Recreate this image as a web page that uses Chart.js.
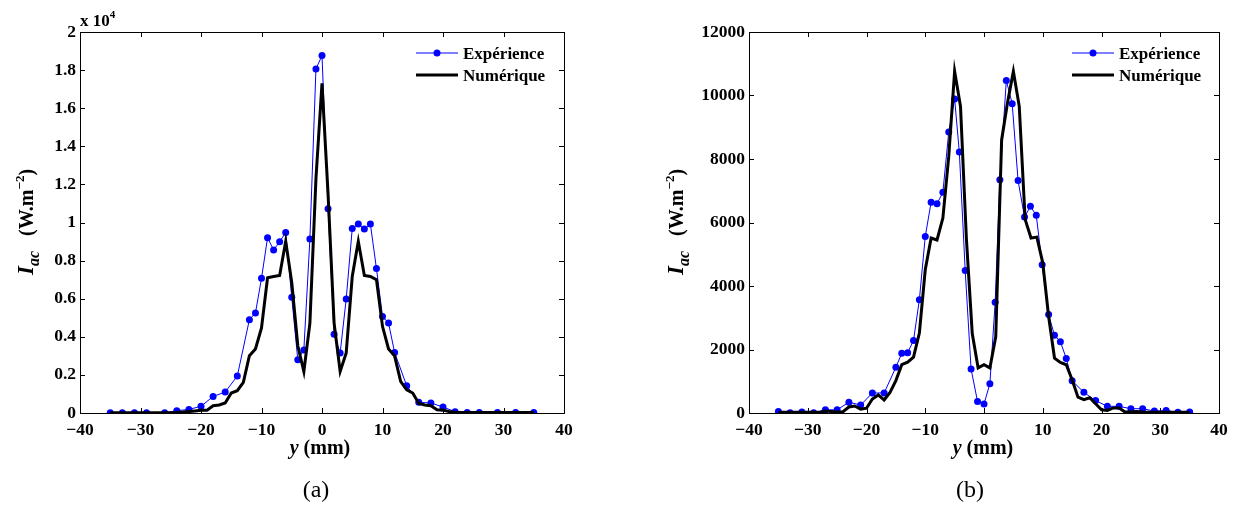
<!DOCTYPE html>
<html>
<head>
<meta charset="utf-8">
<script src="https://cdn.jsdelivr.net/npm/chart.js@4"></script>
<style>
  body { margin: 0; background: #fff; width: 1236px; height: 508px; position: relative; overflow: hidden; }
  canvas { position: absolute; top: 0; }
</style>
</head>
<body>
<canvas id="chartA" width="618" height="508" style="left:0px"></canvas>
<canvas id="chartB" width="618" height="508" style="left:618px"></canvas>
<script>
// Data: y position (mm) and I_ac (W.m^-2)
const yExpA = [-35, -33, -31, -29, -26, -24, -22, -20, -18, -16, -14, -12, -11, -10, -9, -8, -7, -6, -5, -4, -3, -2, -1,
  0, 1, 2, 3, 4, 5, 6, 7, 8, 9, 10, 11, 12, 14, 16, 18, 20, 22, 24, 26, 29, 32, 35];
const iacExpA = [10, 10, 10, 10, 10, 120, 190, 350, 870, 1100, 1940, 4900, 5250, 7070, 9200, 8560, 8990, 9480, 6070, 2800, 3310, 9130, 18060,
  18760, 10720, 4130, 3150, 5980, 9690, 9920, 9660, 9920, 7580, 5070, 4720, 3180, 1430, 560, 525, 315, 70, 30, 30, 20, 20, 20];

const yNumA = [];
for (let i = -35; i <= 35; i++) yNumA.push(i);
const iacNumA = [10, 10, 10, 10, 10, 10, 10, 10, 10, 10, 10,
  30, 50, 85, 110, 140, 150, 380, 420, 525, 1050, 1170, 1610, 3010, 3360, 4460, 7100, 7170, 7220, 9010, 6850, 3530, 2180, 4720, 12300,
  17300,
  11500, 4720, 2180, 3150, 7170, 9010, 7220, 7170, 7000, 4550, 3360, 3000, 1660, 1220, 1050, 500, 420, 380, 170, 150, 80, 40,
  20, 20, 20, 20, 20, 20, 20, 20, 20, 20, 20, 20, 20];

const yExpB = [-35, -33, -31, -29, -27, -25, -23, -21, -19, -17, -15, -14, -13, -12, -11, -10, -9, -8, -7, -6, -5,
  -4.2, -3.2, -2.2, -1.1, 0, 1, 1.9, 2.7, 3.8, 4.8, 5.8, 6.9, 7.9, 8.9, 9.9, 11, 12, 13, 14, 15,
  17, 19, 21, 23, 25, 27, 29, 31, 33, 35];
const iacExpB = [50, 10, 30, 10, 100, 100, 340, 250, 630, 630, 1440, 1880, 1900, 2280, 3570, 5560, 6640, 6590, 6950, 8850, 9890,
  8220, 4490, 1385, 365, 283, 923, 3485, 7350, 10475, 9740, 7320, 6170, 6510, 6225, 4670, 3100, 2445, 2245, 1720, 1017,
  650, 390, 210, 210, 135, 135, 60, 80, 20, 30];

const yNumB = [];
for (let i = -35; i <= 35; i++) yNumB.push(i);
const iacNumB = [20, 20, 20, 20, 20, 20, 20, 20,
  60, 50, 30, 40, 190, 220, 120, 150, 440, 570, 410, 650, 1020, 1520, 1600, 1760, 2520, 4510, 5510, 5450, 6140, 8080, 10760,
  9660, 5500, 2500, 1420, 1520, 1420, 2400, 8600, 9770,
  10760, 9660, 6100, 5510, 5540, 4730, 3040, 1730, 1590, 1520, 1050, 500, 420, 480, 290, 100, 80, 160, 160, 30, 40, 50, 30,
  20, 20, 20, 20, 20, 20, 20, 20];

const SERIF = '"Liberation Serif", "Times New Roman", serif';

function toPoints(xs, ys) {
  return xs.map((x, i) => ({ x: x, y: ys[i] }));
}

function minus(v) {
  return String(v).replace('-', '\u2212');
}

// Draws text pieces one after the other: [text, font, dy]
function drawRun(ctx, pieces, x, y) {
  let cx = x;
  pieces.forEach(([txt, font, dy]) => {
    ctx.font = font;
    ctx.fillText(txt, cx, y + (dy || 0));
    cx += ctx.measureText(txt).width;
  });
}

function runWidth(ctx, pieces) {
  let w = 0;
  pieces.forEach(([txt, font]) => {
    ctx.font = font;
    w += ctx.measureText(txt).width;
  });
  return w;
}

// Box, inward ticks, titles, legend and sub-figure label
const decorPlugin = {
  id: 'decor',
  afterDraw(chart, args, o) {
    const ctx = chart.ctx;
    const a = chart.chartArea;
    const xs = chart.scales.x;
    const ys = chart.scales.y;
    ctx.save();
    ctx.strokeStyle = '#000';
    ctx.lineWidth = 1;
    ctx.strokeRect(Math.round(a.left) + 0.5, Math.round(a.top) + 0.5, Math.round(a.right - a.left), Math.round(a.bottom - a.top));
    ctx.beginPath();
    xs.ticks.forEach(t => {
      const px = Math.round(xs.getPixelForValue(t.value)) + 0.5;
      if (px < a.left + 2 || px > a.right - 2) return;
      ctx.moveTo(px, a.bottom); ctx.lineTo(px, a.bottom - 5);
      ctx.moveTo(px, a.top); ctx.lineTo(px, a.top + 5);
    });
    ys.ticks.forEach(t => {
      const py = Math.round(ys.getPixelForValue(t.value)) + 0.5;
      if (py < a.top + 2 || py > a.bottom - 2) return;
      ctx.moveTo(a.left, py); ctx.lineTo(a.left + 5, py);
      ctx.moveTo(a.right, py); ctx.lineTo(a.right - 5, py);
    });
    ctx.stroke();

    ctx.fillStyle = '#000';
    ctx.textBaseline = 'alphabetic';
    ctx.textAlign = 'left';

    // y axis title, rotated
    const yPieces = [
      ['I', 'bold italic 23px ' + SERIF, 0],
      ['ac', 'bold italic 16px ' + SERIF, 6],
      ['   (W.m', 'bold 20px ' + SERIF, 0],
      ['\u22122', 'bold 13px ' + SERIF, -9],
      [')', 'bold 20px ' + SERIF, 0]
    ];
    ctx.save();
    ctx.translate(o.yTitleX, o.yTitleY);
    ctx.rotate(-Math.PI / 2);
    drawRun(ctx, yPieces, -runWidth(ctx, yPieces) / 2, 0);
    ctx.restore();

    // x axis title
    const xPieces = [
      ['y', 'bold italic 20px ' + SERIF, 0],
      [' (mm)', 'bold 20px ' + SERIF, 0]
    ];
    drawRun(ctx, xPieces, o.xTitleX - runWidth(ctx, xPieces) / 2, 454);

    // sub-figure label
    ctx.font = '24px ' + SERIF;
    ctx.textAlign = 'center';
    ctx.fillText(o.label, o.labelX, 497);
    ctx.textAlign = 'left';

    // exponent
    if (o.exponent) {
      drawRun(ctx, [['x 10', 'bold 17px ' + SERIF, 0], ['4', 'bold 11px ' + SERIF, -8]], a.left, 26);
    }

    // legend
    const lx = o.legendX;
    ctx.strokeStyle = '#0000ff';
    ctx.lineWidth = 1;
    ctx.beginPath();
    ctx.moveTo(lx, 53); ctx.lineTo(lx + 42, 53);
    ctx.stroke();
    ctx.fillStyle = '#0000ff';
    ctx.beginPath();
    ctx.arc(lx + 21, 53, 3.5, 0, Math.PI * 2);
    ctx.fill();
    ctx.strokeStyle = '#000';
    ctx.lineWidth = 3;
    ctx.beginPath();
    ctx.moveTo(lx, 75); ctx.lineTo(lx + 42, 75);
    ctx.stroke();
    ctx.fillStyle = '#000';
    ctx.font = 'bold 17px ' + SERIF;
    ctx.fillText('Exp\u00e9rience', lx + 47, 59);
    ctx.fillText('Num\u00e9rique', lx + 47, 81);
    ctx.restore();
  }
};

function makeChart(id, expPts, numPts, yMax, yTick, yWidth, padRight, decor) {
  return new Chart(document.getElementById(id), {
    type: 'scatter',
    data: {
      datasets: [
        {
          label: 'Expérience',
          data: expPts,
          showLine: true,
          borderColor: '#0000ff',
          backgroundColor: '#0000ff',
          borderWidth: 1,
          pointRadius: 3.5,
          pointBorderWidth: 0,
          order: 1
        },
        {
          label: 'Numérique',
          data: numPts,
          showLine: true,
          borderColor: '#000000',
          borderWidth: 3,
          pointRadius: 0,
          order: 0
        }
      ]
    },
    options: {
      responsive: false,
      animation: false,
      devicePixelRatio: 1,
      layout: { padding: { top: 32, right: padRight, bottom: 0, left: 0 } },
      plugins: {
        legend: { display: false },
        tooltip: { enabled: false },
        decor: decor
      },
      scales: {
        x: {
          type: 'linear',
          min: -40,
          max: 40,
          ticks: {
            stepSize: 10,
            color: '#000',
            padding: 7,
            font: { family: SERIF, size: 17.5, weight: 'bold' },
            callback: v => minus(v)
          },
          grid: { display: false, drawTicks: false },
          border: { display: false },
          afterFit: s => { s.height = 95; }
        },
        y: {
          min: 0,
          max: yMax,
          ticks: {
            stepSize: 2000,
            color: '#000',
            padding: 4,
            font: { family: SERIF, size: 17.5, weight: 'bold' },
            callback: yTick
          },
          grid: { display: false, drawTicks: false },
          border: { display: false },
          afterFit: s => { s.width = yWidth; }
        }
      }
    },
    plugins: [decorPlugin]
  });
}

makeChart('chartA', toPoints(yExpA, iacExpA), toPoints(yNumA, iacNumA), 20000,
  v => String(Number((v / 1e4).toFixed(1))), 80, 54,
  { yTitleX: 33, yTitleY: 222, xTitleX: 320, label: '(a)', labelX: 316, legendX: 416, exponent: true });

makeChart('chartB', toPoints(yExpB, iacExpB), toPoints(yNumB, iacNumB), 12000,
  v => String(v), 131, 17,
  { yTitleX: 683 - 618, yTitleY: 222, xTitleX: 983 - 618, label: '(b)', labelX: 970 - 618, legendX: 1072 - 618, exponent: false });
</script>
</body>
</html>
